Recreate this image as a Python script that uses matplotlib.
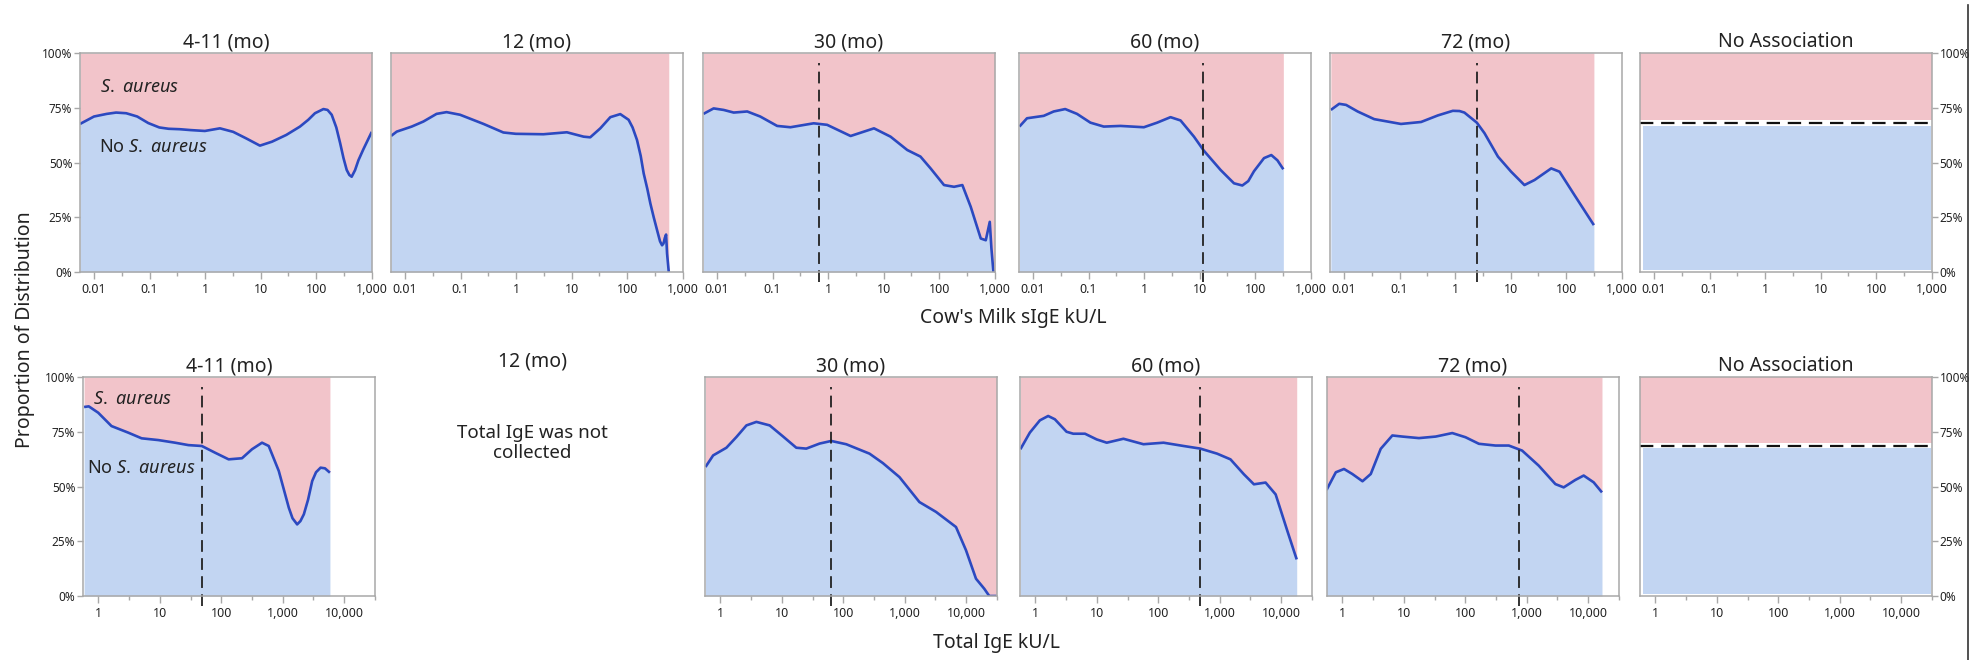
import numpy as np
import matplotlib
matplotlib.use("Agg")
import matplotlib.pyplot as plt
from matplotlib.ticker import FixedLocator, NullFormatter
from matplotlib.patches import Rectangle
from matplotlib.lines import Line2D

# ---- data: % of children WITHOUT S. aureus along the sIgE axis ----
# Cow's milk sIgE (top row)
cm_4_11_x = [0.0056, 0.01, 0.017, 0.025, 0.038, 0.06, 0.095, 0.15, 0.22, 0.35, 0.55, 0.99, 1.85, 3.2, 5.5, 9.7, 16, 29, 51, 72, 95, 135, 160, 190, 230, 270, 310, 354, 395, 435, 500, 575, 705, 1000]
cm_4_11_y = [67.6, 71, 72.2, 72.8, 72.5, 71, 68, 66, 65.4, 65.2, 64.8, 64.4, 65.6, 64, 61, 57.7, 59.5, 62.6, 66.4, 69.5, 72.5, 74.4, 74, 71.8, 66, 58.8, 52, 46.6, 44.3, 43.5, 46.5, 51, 56, 64]

cm_12_x = [0.0056, 0.0071, 0.0132, 0.0214, 0.037, 0.056, 0.098, 0.26, 0.59, 0.99, 3.1, 8.2, 16.4, 21.6, 32.8, 49.7, 75, 106, 125, 150, 175, 198, 230, 261, 300, 345, 390, 424, 450, 475, 501, 522, 560]
cm_12_y = [62.1, 64.1, 66.4, 68.7, 72.2, 73, 71.8, 67.6, 63.7, 63.1, 62.9, 63.8, 61.8, 61.5, 65.6, 70.7, 72.1, 69.5, 66, 60.3, 53, 45, 38, 31.3, 25, 19.1, 14, 12.2, 13, 15.5, 17.1, 8.4, 0]

cm_30_x = [0.0057, 0.0087, 0.0132, 0.02, 0.035, 0.06, 0.121, 0.21, 0.55, 0.96, 2.54, 6.7, 13.3, 26.6, 46, 70, 122, 185, 261, 369, 560, 689, 813, 871, 946, 1000]
cm_30_y = [72.2, 74.7, 74, 72.8, 73.3, 71, 66.7, 66.1, 67.9, 67.2, 62.1, 65.6, 61.8, 55.7, 52.7, 47.3, 39.7, 38.9, 39.7, 29.8, 15.3, 14.5, 22.9, 10.7, 0, 0]

cm_60_x = [0.0057, 0.0078, 0.0156, 0.0236, 0.038, 0.062, 0.108, 0.188, 0.376, 0.99, 1.72, 2.99, 4.53, 7.9, 11.9, 23.8, 33, 41.5, 58.6, 75, 95, 144, 195, 251, 321]
cm_60_y = [66.4, 70.2, 71.3, 73.3, 74.4, 72.2, 68.2, 66.4, 66.7, 66.1, 68.2, 70.7, 69.2, 61.8, 55.4, 46.6, 43, 40.5, 39.5, 41.5, 46, 52, 53.4, 51, 46.9]

cm_72_x = [0.0058, 0.0082, 0.0109, 0.0176, 0.035, 0.106, 0.244, 0.49, 0.91, 1.2, 1.47, 2.46, 3.38, 5.9, 10.2, 17.7, 26.9, 53.7, 75.8, 141, 315]
cm_72_y = [74, 76.8, 76.3, 73.3, 69.8, 67.6, 68.5, 71.5, 73.6, 73.5, 72.8, 68.2, 63.4, 52.7, 45.8, 39.7, 42, 47.3, 45.8, 35.1, 21.4]

# Total IgE (bottom row)
tot_4_11_x = [0.583, 0.695, 0.99, 1.63, 3.05, 5.05, 9.45, 17.7, 29.2, 48.3, 79.8, 132, 218, 317, 462, 594, 866, 1262, 1450, 1726, 1950, 2218, 2600, 3035, 3500, 4155, 4900, 5900]
tot_4_11_y = [86.3, 86.6, 83.7, 77.6, 74.6, 72, 71.2, 70, 68.9, 68.5, 65.4, 62.4, 62.9, 67, 70, 68.5, 57.1, 40.3, 35.5, 32.7, 34.2, 37.3, 44, 52.5, 56.5, 58.6, 58.3, 56.3]

tot_30_x = [0.57, 0.76, 1.25, 1.82, 2.65, 3.85, 6.34, 10.4, 17.2, 25, 41.2, 63.8, 112, 268, 442, 824, 1742, 3251, 6871, 10000, 14550, 19870, 23950, 31550]
tot_30_y = [58.9, 64.2, 67.7, 72.6, 77.9, 79.5, 77.9, 72.9, 67.7, 67.3, 69.6, 70.8, 69.3, 65, 60.7, 54.3, 42.9, 38.4, 31.5, 20.9, 7.9, 3.3, 0, 0]

tot_60_x = [0.568, 0.81, 1.18, 1.61, 2.07, 3.21, 4.13, 6.41, 9.94, 14.5, 27.1, 57.5, 122, 259, 486, 910, 1503, 2483, 3622, 5610, 8180, 12700, 18030]
tot_60_y = [67, 74.6, 80.2, 82.2, 80.7, 75, 74.1, 74.1, 71.5, 70, 71.8, 69.3, 70, 68.5, 67.3, 65, 62.4, 55.6, 51, 51.8, 46.4, 29.7, 16.7]

tot_72_x = [0.55, 0.78, 1.06, 1.45, 2.12, 2.89, 4.2, 6.5, 9.46, 17.6, 33, 61.5, 101, 167, 311, 513, 845, 1578, 2943, 4020, 6220, 8510, 12370, 16900]
tot_72_y = [48.4, 56.5, 58, 55.7, 52.4, 55.7, 67.2, 73.3, 72.8, 72.1, 72.8, 74.4, 72.5, 69.5, 68.7, 68.7, 66.4, 59.5, 51.1, 49.6, 53, 55, 51.9, 47.3]

# cut points (dashed vertical lines), None = no line
cm_cuts = [None, None, 0.70, 11.6, 2.46]
tot_cuts = [48.3, None, 63.8, 486, 746]

# overall proportion without S. aureus ("No Association")
no_assoc_top = 67.9
no_assoc_bottom = 68.7

titles = ["4-11 (mo)", "12 (mo)", "30 (mo)", "60 (mo)", "72 (mo)", "No Association"]
cm_ticks = [0.01, 0.1, 1, 10, 100, 1000]
cm_labels = ["0.01", "0.1", "1", "10", "100", "1,000"]
tot_ticks = [1, 10, 100, 1000, 10000]
tot_labels = ["1", "10", "100", "1,000", "10,000"]
pct_ticks = [0, 0.25, 0.5, 0.75, 1.0]
pct_labels = ["0%", "25%", "50%", "75%", "100%"]

# ---- style ----
PINK = "#F2C4CA"
BLUE = "#C2D5F2"
LINE = "#2C49C0"
FRAME = "#A8A8A8"
plt.rcParams["font.family"] = ["Noto Sans", "DejaVu Sans"]
plt.rcParams["mathtext.fontset"] = "custom"
plt.rcParams["mathtext.rm"] = "Noto Sans"
plt.rcParams["mathtext.it"] = "Noto Sans:italic"

W, H = 1979, 660
fig = plt.figure(figsize=(W / 100, H / 100), dpi=100)


def make_ax(left, top, width=292, height=219):
    return fig.add_axes([left / W, 1 - (top + height) / H, width / W, height / H])


def style_ax(ax, xlim, ticks, labels, yside=None):
    ax.set_xscale("log")
    ax.set_xlim(*xlim)
    ax.set_ylim(0, 1)
    ax.xaxis.set_major_locator(FixedLocator(ticks))
    ax.set_xticklabels(labels)
    lo, hi = np.log10(xlim[0]), np.log10(xlim[1])
    minors = [10 ** (k + 0.5) for k in range(int(np.floor(lo)), int(np.ceil(hi)) + 1)]
    ax.xaxis.set_minor_locator(FixedLocator(minors))
    ax.xaxis.set_minor_formatter(NullFormatter())
    ax.tick_params(axis="x", which="major", length=5, width=1, color=FRAME,
                   labelsize=9, pad=3, labelcolor="#222222")
    ax.tick_params(axis="x", which="minor", length=3, width=1, color=FRAME)
    for s in ax.spines.values():
        s.set_color(FRAME)
        s.set_linewidth(1.1)
    if yside is None:
        ax.set_yticks([])
    else:
        ax.set_yticks(pct_ticks)
        ax.set_yticklabels(pct_labels)
        ax.tick_params(axis="y", length=4, width=1, color=FRAME, labelsize=8.5,
                       pad=1.5, labelcolor="#222222")
        if yside == "right":
            ax.yaxis.tick_right()


def draw_curve(ax, x, y, cut):
    y = np.array(y) / 100.0
    ax.fill_between(x, y, 1, color=PINK, lw=0)
    ax.fill_between(x, 0, y, color=BLUE, lw=0)
    ax.plot(x, y, color=LINE, lw=1.9, solid_joinstyle="round", solid_capstyle="butt")
    if cut is not None:
        ax.axvline(cut, ymin=-0.045, ymax=0.955, color="#222222", lw=1.3,
                   linestyle=(0, (6.5, 3.5)), clip_on=False)


def draw_no_assoc(ax, level):
    lv = level / 100.0
    ax.add_patch(Rectangle((0, lv + 0.013), 1, 1 - lv - 0.013, transform=ax.transAxes,
                           facecolor=PINK, edgecolor="none"))
    ax.add_patch(Rectangle((0.01, 0.01), 0.985, lv - 0.022, transform=ax.transAxes,
                           facecolor=BLUE, edgecolor="none"))
    ax.plot([0, 1], [lv, lv], transform=ax.transAxes, color="#111111", lw=1.6,
            linestyle=(0, (6, 3.5)))


top_lefts = [80, 391, 703, 1019, 1330, 1640]
bot_lefts = [83, 392, 705, 1020, 1327, 1640]
cm_xlim = (0.0056, 1010)
tot_xlim = (0.56, 32000)

cm_data = [(cm_4_11_x, cm_4_11_y), (cm_12_x, cm_12_y), (cm_30_x, cm_30_y),
           (cm_60_x, cm_60_y), (cm_72_x, cm_72_y)]
tot_data = [(tot_4_11_x, tot_4_11_y), None, (tot_30_x, tot_30_y),
            (tot_60_x, tot_60_y), (tot_72_x, tot_72_y)]

# top row: cow's milk sIgE
for i in range(6):
    ax = make_ax(top_lefts[i], 53)
    side = "left" if i == 0 else ("right" if i == 5 else None)
    if i < 5:
        draw_curve(ax, cm_data[i][0], cm_data[i][1], cm_cuts[i])
    else:
        draw_no_assoc(ax, no_assoc_top)
    style_ax(ax, cm_xlim, cm_ticks, cm_labels, side)
    ax.set_title(titles[i], fontsize=14, pad=4, color="#222222")
    if i == 0:
        ax.text(0.068, 0.845, r"$\mathit{S.\ aureus}$", transform=ax.transAxes,
                fontsize=13, va="center", color="#222222")
        ax.text(0.065, 0.571, r"No $\mathit{S.\ aureus}$", transform=ax.transAxes,
                fontsize=13, va="center", color="#222222")

# bottom row: total IgE
for i in range(6):
    if i == 1:
        fig.text(532 / W, 1 - 362 / H, titles[i], fontsize=14, ha="center",
                 va="center", color="#222222")
        fig.text(532 / W, 1 - 443 / H, "Total IgE was not\ncollected", fontsize=13.5,
                 ha="center", va="center", color="#222222", linespacing=1.15)
        continue
    ax = make_ax(bot_lefts[i], 377)
    side = "left" if i == 0 else ("right" if i == 5 else None)
    if i < 5:
        draw_curve(ax, tot_data[i][0], tot_data[i][1], tot_cuts[i])
    else:
        draw_no_assoc(ax, no_assoc_bottom)
    style_ax(ax, tot_xlim, tot_ticks, tot_labels, side)
    ax.set_title(titles[i], fontsize=14, pad=4, color="#222222")
    if i == 0:
        ax.text(0.034, 0.9, r"$\mathit{S.\ aureus}$", transform=ax.transAxes,
                fontsize=13, va="center", color="#222222")
        ax.text(0.014, 0.586, r"No $\mathit{S.\ aureus}$", transform=ax.transAxes,
                fontsize=13, va="center", color="#222222")

fig.text(1013 / W, 1 - 318 / H, "Cow's Milk sIgE kU/L", fontsize=14, ha="center",
         va="center", color="#222222")
fig.text(996 / W, 1 - 643 / H, "Total IgE kU/L", fontsize=14, ha="center",
         va="center", color="#222222")
fig.text(25 / W, 1 - 330 / H, "Proportion of Distribution", fontsize=14, ha="center",
         va="center", rotation=90, color="#222222")
fig.add_artist(Line2D([1968 / W, 1968 / W], [0, 1 - 5 / H], color="#333333", lw=1.2))

fig.savefig("out.png", dpi=100)
